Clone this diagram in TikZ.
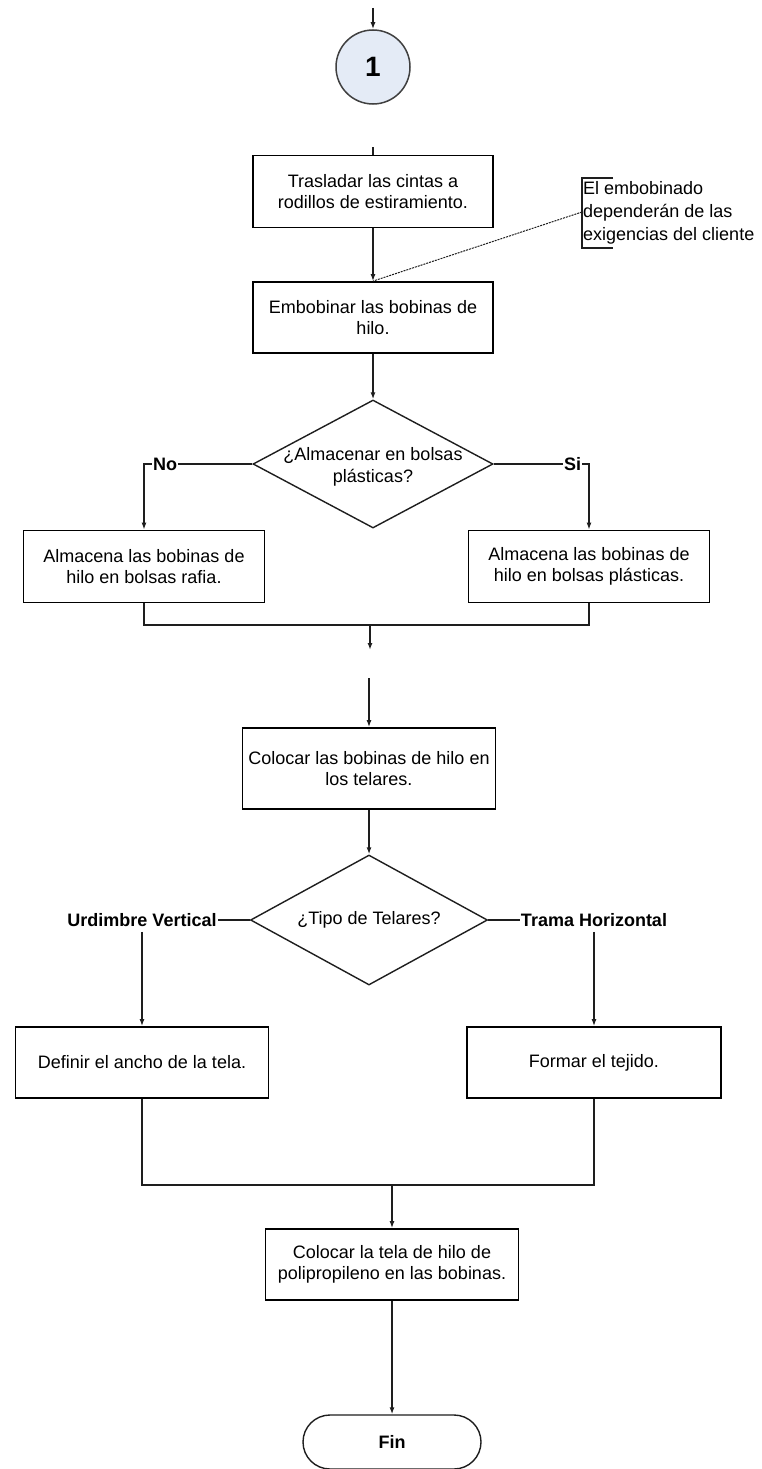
\documentclass[tikz,border=0pt]{standalone}
\usepackage{fontspec}
\setmainfont{Liberation Sans}
\usetikzlibrary{shapes.geometric,arrows.meta}
\definecolor{linegray}{HTML}{1E1E1E}
\definecolor{connfill}{HTML}{E4EBF6}
\begin{document}
\begin{tikzpicture}[x=1pt,y=-1pt,
  every node/.style={font=\fontsize{18}{21.5}\selectfont},
  procbox/.style={draw=black, line width=1.8pt, rectangle, align=center,
    inner sep=2pt, minimum width=240pt, minimum height=72pt},
  decision/.style={draw=linegray, line width=1.4pt, diamond, inner sep=0pt,
    minimum width=240pt, minimum height=128pt},
  lbl/.style={font=\bfseries\fontsize{18}{21.5}\selectfont, inner sep=1pt},
  conn/.style={draw=linegray, line width=1.4pt},
  arr/.style={conn, -{Latex[length=7pt,width=5pt]}},
  pageconn/.style={circle, draw=black!75, line width=1.5pt, fill=connfill,
    minimum size=74pt, inner sep=0pt, font=\bfseries\fontsize{28}{30}\selectfont},
  terminal/.style={draw=linegray, line width=1.4pt, rectangle, rounded corners=27pt,
    minimum width=178pt, minimum height=54pt, font=\bfseries\fontsize{18}{21.5}\selectfont}
]
\useasboundingbox[fill=white] (0,0) rectangle (762,1469);

% incoming page connector
\coordinate (top) at (373,8);
\node[pageconn] (p1) at (373,67) {1};
\draw[arr] (top) -- (p1.north);

% first steps
\coordinate (stub) at (373,147);
\node[procbox] (b1) at (373,191.5) {Trasladar las cintas a\\rodillos de estiramiento.};
\node[procbox, minimum height=71pt] (b2) at (373,317.5) {Embobinar las bobinas de\\hilo.};
\draw[conn] (stub) -- (b1.north);
\draw[arr] (b1.south) -- (b2.north);

% annotation with bracket
\node[anchor=west, align=left, inner sep=0pt,
  font=\fontsize{18}{23}\selectfont] (note) at (583,213)
  {El embobinado\\dependerán de las\\exigencias del cliente};
\coordinate (nt) at (613,178);
\coordinate (ntl) at (582,178);
\coordinate (nbl) at (582,248);
\coordinate (nb) at (613,248);
\coordinate (nmid) at (582,212);
\draw[line width=1.4pt, draw=linegray] (nt) -- (ntl) -- (nbl) -- (nb);
\draw[draw=linegray, line width=1pt, dash pattern=on 2pt off 1pt] (nmid) -- (b2.north);

% storage decision
\node[decision] (d1) at (373,464) {};
\node[align=center, inner sep=0pt] (d1t) at (373,467) {¿Almacenar en bolsas\\plásticas?};
\draw[arr] (b2.south) -- (d1.north);

\node[procbox, minimum width=241pt] (bl) at (144,566.5) {Almacena las bobinas de\\hilo en bolsas rafia.};
\node[procbox, minimum width=241pt] (br) at (589,566.5) {Almacena las bobinas de\\hilo en bolsas plásticas.};

\node[lbl] (no) at (165,464) {No};
\node[lbl] (si) at (572.5,464) {Si};
\draw[conn] (d1.west) -- (no.east);
\draw[arr] (no.west) -| (bl.north);
\draw[conn] (d1.east) -- (si.west);
\draw[arr] (si.east) -| (br.north);

% merge of both storage branches
\coordinate (j1) at (370,625);
\coordinate (c1) at (370,650);
\draw[conn] (bl.south) |- (j1) -| (br.south);
\draw[arr] (j1) -- (c1);

% looms
\coordinate (c2) at (369,678);
\node[procbox, minimum width=253pt, minimum height=81pt] (b3) at (369,768.5) {Colocar las bobinas de hilo en\\los telares.};
\draw[arr] (c2) -- (b3.north);

\node[decision, minimum width=237pt, minimum height=130pt] (d2) at (369,920) {};
\node[inner sep=0pt] (d2t) at (369,920) {¿Tipo de Telares?};
\draw[arr] (b3.south) -- (d2.north);

\node[lbl] (uv) at (142,920) {Urdimbre Vertical};
\node[lbl] (th) at (594,920) {Trama Horizontal};
\draw[conn] (d2.west) -- (uv.east);
\draw[conn] (d2.east) -- (th.west);

\node[procbox, minimum width=253pt, minimum height=71pt] (b5) at (142,1062.5) {Definir el ancho de la tela.};
\node[procbox, minimum width=254pt, minimum height=71pt] (b6) at (594,1062.5) {Formar el tejido.};
\draw[arr] ([yshift=-4pt]uv.south) -- (b5.north);
\draw[arr] ([yshift=-4pt]th.south) -- (b6.north);

% merge of both loom branches
\coordinate (j2) at (392,1185);
\draw[conn] (b5.south) |- (j2) -| (b6.south);

\node[procbox, minimum width=253pt, minimum height=71pt] (b4) at (392,1264.5) {Colocar la tela de hilo de\\polipropileno en las bobinas.};
\draw[arr] (j2) -- (b4.north);

\node[terminal] (fin) at (392,1442) {Fin};
\draw[arr] (b4.south) -- (fin.north);
\end{tikzpicture}
\end{document}
